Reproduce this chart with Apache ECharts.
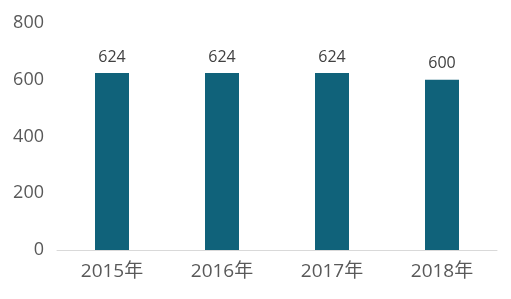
<!DOCTYPE html>
<html><head><meta charset="utf-8">
<script src="https://cdn.jsdelivr.net/npm/echarts@6/dist/echarts.min.js"></script>
<style>html,body{margin:0;padding:0;background:#fff}#c{width:511px;height:299px}</style>
</head><body><div id="c"></div>
<script>
const categories = ['2015年','2016年','2017年','2018年'];
const values = [624, 624, 624, 600];
const yTicks = [0, 200, 400, 600, 800];
const font = '"Open Sans", "Noto Sans CJK SC", sans-serif';
const chart = echarts.init(document.getElementById('c'));
chart.setOption({
  animation: false,
  grid: {left: 57, right: 14, top: 23, bottom: 49},
  xAxis: {
    type: 'category', data: categories,
    axisLine: {lineStyle: {color: '#d9d9d9', width: 1}},
    axisTick: {show: false},
    axisLabel: {color: '#595959', fontSize: 19, fontFamily: font, margin: 12}
  },
  yAxis: {
    type: 'value', min: yTicks[0], max: yTicks[yTicks.length-1], interval: 200,
    splitLine: {show: false}, axisLine: {show: false}, axisTick: {show: false},
    axisLabel: {color: '#595959', fontSize: 18, fontFamily: font, margin: 13}
  },
  series: [{
    type: 'bar', data: values, barWidth: 34,
    itemStyle: {color: '#10627a'},
    label: {show: true, position: 'top', distance: 8, color: '#404040', fontSize: 16, fontFamily: font}
  }]
});
</script></body></html>
